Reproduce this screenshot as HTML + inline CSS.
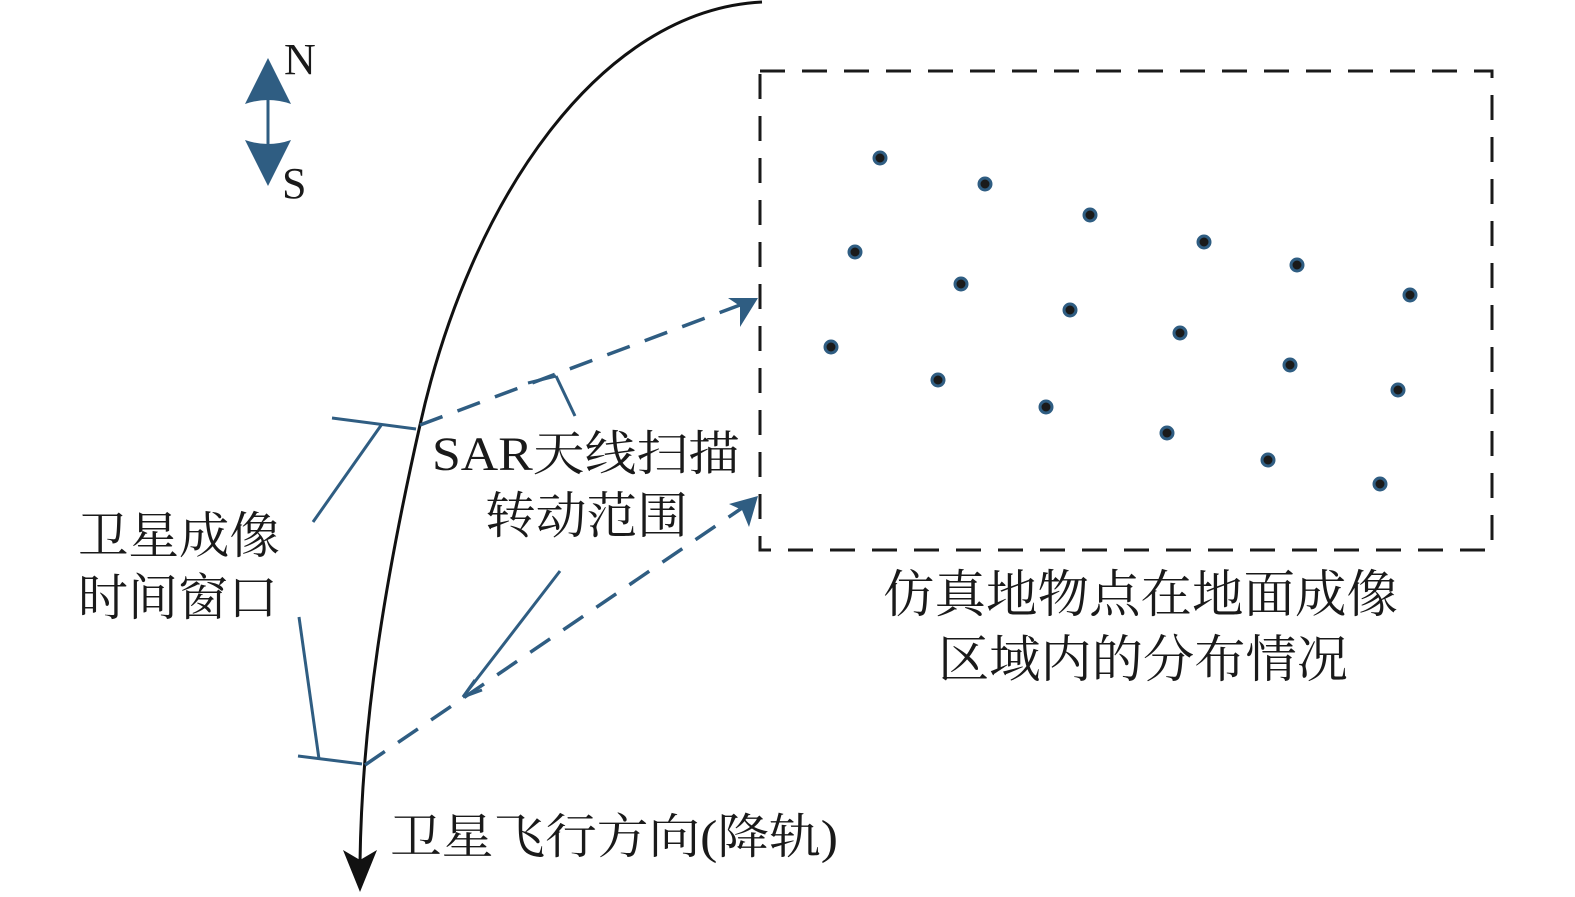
<!DOCTYPE html>
<html><head><meta charset="utf-8"><style>
html,body{margin:0;padding:0;background:#fff;}
svg{display:block;}
text{font-family:"Liberation Serif","Noto Serif CJK SC",serif;fill:#1a1a1a;}
</style></head><body>
<svg width="1575" height="897" viewBox="0 0 1575 897" xmlns="http://www.w3.org/2000/svg">
<defs>
<marker id="ab" viewBox="0 0 10 10" refX="9" refY="5" markerWidth="10" markerHeight="10" markerUnits="userSpaceOnUse" orient="auto"><path d="M0,0 L10,5 L0,10 L3,5 z" fill="#2f5d82"/></marker>
</defs>
<!-- compass -->
<path d="M268,58 L291,104 Q268,96 245,104 Z" fill="#2f5d82"/>
<path d="M268,186 L291,140 Q268,148 245,140 Z" fill="#2f5d82"/>
<line x1="268" y1="98" x2="268" y2="146" stroke="#2f5d82" stroke-width="3"/>
<text x="284" y="74" font-size="44">N</text>
<text x="282" y="198" font-size="44">S</text>
<!-- trajectory -->
<path d="M762,2 C600,10 470,200 420,425 C385,580 362,720 360,862" fill="none" stroke="#111" stroke-width="3"/>
<path d="M360,892 L343,850 L360,860 L377,850 Z" fill="#111"/>
<!-- dashed rays -->
<g stroke="#2f5d82" stroke-width="3.5" fill="none" stroke-dasharray="24,16">
<line x1="420" y1="425" x2="740" y2="305"/>
<line x1="365" y1="765" x2="742" y2="508"/>
</g>
<path d="M758,298 L728,298 L740,306 L740,327 Z" fill="#2f5d82"/>
<path d="M758,496 L729,504 L742,510 L749,527 Z" fill="#2f5d82"/>
<!-- brackets -->
<g stroke="#2f5d82" stroke-width="3" fill="none">
<line x1="332" y1="418" x2="416" y2="429"/>
<line x1="382" y1="424" x2="313" y2="522"/>
<line x1="298" y1="756" x2="362" y2="764"/>
<line x1="319" y1="759" x2="299" y2="617"/>
<line x1="528" y1="383" x2="556" y2="376"/>
<line x1="556" y1="376" x2="575" y2="416"/>
<line x1="560" y1="571" x2="463" y2="697"/>
<line x1="463" y1="697" x2="475" y2="680"/>
<line x1="463" y1="697" x2="482" y2="690"/>
</g>
<!-- box -->
<rect x="760" y="71" width="732" height="479" fill="none" stroke="#1a1a1a" stroke-width="3" stroke-dasharray="25,17"/>
<!-- dots -->
<g fill="#1a1a1a" stroke="#2f5d82" stroke-width="3">
<circle cx="880" cy="158" r="6"/><circle cx="985" cy="184" r="6"/><circle cx="1090" cy="215" r="6"/>
<circle cx="1204" cy="242" r="6"/><circle cx="1297" cy="265" r="6"/><circle cx="1410" cy="295" r="6"/>
<circle cx="855" cy="252" r="6"/><circle cx="961" cy="284" r="6"/><circle cx="1070" cy="310" r="6"/>
<circle cx="1180" cy="333" r="6"/><circle cx="1290" cy="365" r="6"/><circle cx="1398" cy="390" r="6"/>
<circle cx="831" cy="347" r="6"/><circle cx="938" cy="380" r="6"/><circle cx="1046" cy="407" r="6"/>
<circle cx="1167" cy="433" r="6"/><circle cx="1268" cy="460" r="6"/><circle cx="1380" cy="484" r="6"/>
</g>
<!-- labels -->
<text x="78" y="553" font-size="50" textLength="202" lengthAdjust="spacingAndGlyphs">卫星成像</text>
<text x="78" y="615" font-size="50" textLength="200" lengthAdjust="spacingAndGlyphs">时间窗口</text>
<text x="432" y="470" font-size="48" textLength="308" lengthAdjust="spacingAndGlyphs">SAR天线扫描</text>
<text x="485" y="533" font-size="50" textLength="203" lengthAdjust="spacingAndGlyphs">转动范围</text>
<text x="883" y="612" font-size="51" textLength="515" lengthAdjust="spacingAndGlyphs">仿真地物点在地面成像</text>
<text x="938" y="677" font-size="51" textLength="410" lengthAdjust="spacingAndGlyphs">区域内的分布情况</text>
<text x="390" y="853" font-size="48" textLength="448" lengthAdjust="spacingAndGlyphs">卫星飞行方向(降轨)</text>
</svg>
</body></html>
